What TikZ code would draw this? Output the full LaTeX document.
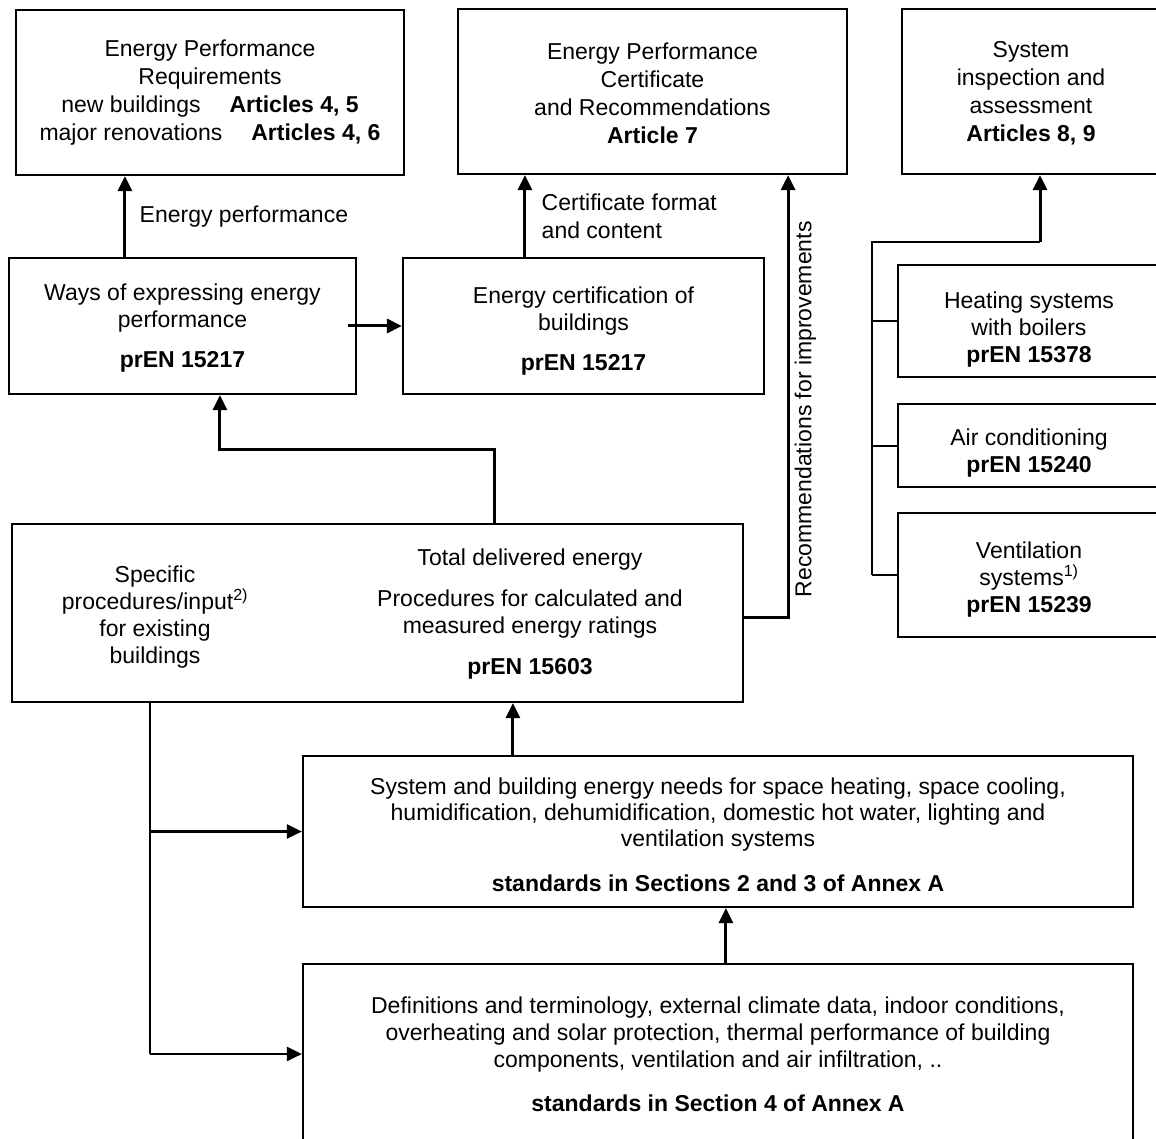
\documentclass[tikz,border=0pt]{standalone}
\usepackage{fontspec}
\setmainfont{Liberation Sans}
\usepackage{tikz}
\usetikzlibrary{arrows.meta,calc}

\begin{document}
\begin{tikzpicture}[x=1pt, y=-1pt,
    box/.style={draw, line width=2.2pt, align=center, inner sep=0pt, font=\fontsize{23}{28}\selectfont},
    txt/.style={align=center, inner sep=0pt, font=\fontsize{23}{27}\selectfont},
    arr/.style={line width=3pt, -{Triangle[length=15pt,width=14pt]}},
    thinarr/.style={line width=2.4pt, -{Triangle[length=15pt,width=14pt]}},
    bus/.style={line width=2pt}]
    \useasboundingbox (0,0) rectangle (1156,1139);

    % Top row: directive articles
    \node[box, minimum width=388pt, minimum height=165pt] (req) at (210,92.5)
        {Energy Performance\\Requirements\\new buildings\hspace{29pt}\textbf{Articles 4, 5}\\major renovations\hspace{29pt}\textbf{Articles 4, 6}};
    \node[box, minimum width=389pt, minimum height=165pt] (cert) at (652.5,91.5)
        {\rule{0pt}{20pt}Energy Performance\\Certificate\\and Recommendations\\\textbf{Article 7}};
    \node[box, minimum width=258pt, minimum height=165pt] (insp) at (1031,91.5)
        {\rule{0pt}{20pt}System\\inspection and\\assessment\\\textbf{Articles 8, 9}};

    % Second row
    \node[box, minimum width=347pt, minimum height=136pt, font=\fontsize{23}{27}\selectfont] (ways) at (182.5,326)
        {\rule{0pt}{20pt}Ways of expressing energy\\performance\\[13pt]\textbf{prEN 15217}};
    \node[box, minimum width=361pt, minimum height=136pt, font=\fontsize{23}{27}\selectfont] (ecert) at (583.5,326)
        {\rule{0pt}{27pt}Energy certification of\\buildings\\[13pt]\textbf{prEN 15217}};

    % Inspection standards
    \node[box, minimum width=262pt, minimum height=112pt, font=\fontsize{23}{27}\selectfont] (heat) at (1029,321)
        {\rule{0pt}{34pt}Heating systems\\with boilers\\\textbf{prEN 15378}};
    \node[box, minimum width=262pt, minimum height=83pt, font=\fontsize{23}{27}\selectfont] (air) at (1029,445.5)
        {\rule{0pt}{31pt}Air conditioning\\\textbf{prEN 15240}};
    \node[box, minimum width=262pt, minimum height=124pt, font=\fontsize{23}{27}\selectfont] (vent) at (1029,575)
        {\rule{0pt}{26pt}Ventilation\\systems\textsuperscript{1)}\\\textbf{prEN 15239}};

    % Delivered energy
    \node[box, minimum width=731pt, minimum height=178pt] (deliv) at (377.5,613) {};
    \node[txt] (spec) at (155,617)
        {Specific\\procedures/input\textsuperscript{2)}\\for existing\\buildings};
    \node[txt] (total) at (530,614)
        {Total delivered energy\\[14pt]Procedures for calculated and\\measured energy ratings\\[14pt]\textbf{prEN 15603}};

    % Energy needs and basic standards
    \node[box, minimum width=830pt, minimum height=151pt, font=\fontsize{23}{26}\selectfont] (needs) at (718,831.5)
        {\rule{0pt}{23pt}System and building energy needs for space heating, space cooling,\\humidification, dehumidification, domestic hot water, lighting and\\ventilation systems\\[19pt]\textbf{standards in Sections 2 and 3 of Annex A}};
    \node[box, minimum width=830pt, minimum height=180pt, font=\fontsize{23}{27}\selectfont] (basic) at (718,1054)
        {Definitions and terminology, external climate data, indoor conditions,\\overheating and solar protection, thermal performance of building\\components, ventilation and air infiltration, ..\\[17pt]\textbf{standards in Section 4 of Annex A}};

    % Upward arrows
    \draw[arr] ([xshift=117pt]ways.north west) coordinate (w1) -- (w1 |- req.south)
        node[midway, right, xshift=10pt, font=\fontsize{23}{27}\selectfont] (eplabel) {Energy performance};
    \draw[arr] ([xshift=123pt]ecert.north west) coordinate (e1) -- (e1 |- cert.south)
        node[midway, right, xshift=12pt, align=left, font=\fontsize{23}{28}\selectfont] (cflabel) {Certificate format\\and content};
    \draw[arr] ([xshift=-9pt]ways.east) -- (ecert.west);
    \draw[arr] ([xshift=484pt]deliv.north west) -- ++(0,-73) -| ([xshift=212pt]ways.south west);
    \draw[arr] ([yshift=-4pt]deliv.east) -- ++(44,0) coordinate (r1) -- (r1 |- cert.south)
        node[pos=0.47, sloped, below, inner sep=5pt, font=\fontsize{23}{27}\selectfont] (reclabel) {Recommendations for improvements};
    \draw[arr] ([xshift=211pt]needs.north west) coordinate (n1) -- (n1 |- deliv.south);
    \draw[arr] ([xshift=424pt]basic.north west) coordinate (b1) -- (b1 |- needs.south);

    % Existing buildings feed
    \draw[bus] ([xshift=139pt]deliv.south west) coordinate (s1) -- (s1 |- basic.west);
    \draw[thinarr] (s1 |- needs.west) -- (needs.west);
    \draw[thinarr] (s1 |- basic.west) -- (basic.west);

    % Inspection bus
    \coordinate (bus) at (872,242);
    \draw[bus] (vent.west -| bus) -- (bus) -- (bus -| 1040,0);
    \draw[arr] (bus -| 1040,0) -- (1040,0 |- insp.south);
    \draw[bus] (heat.west -| bus) -- (heat.west);
    \draw[bus] (air.west -| bus) -- (air.west);
    \draw[bus] (vent.west -| bus) -- (vent.west);
\end{tikzpicture}
\end{document}
